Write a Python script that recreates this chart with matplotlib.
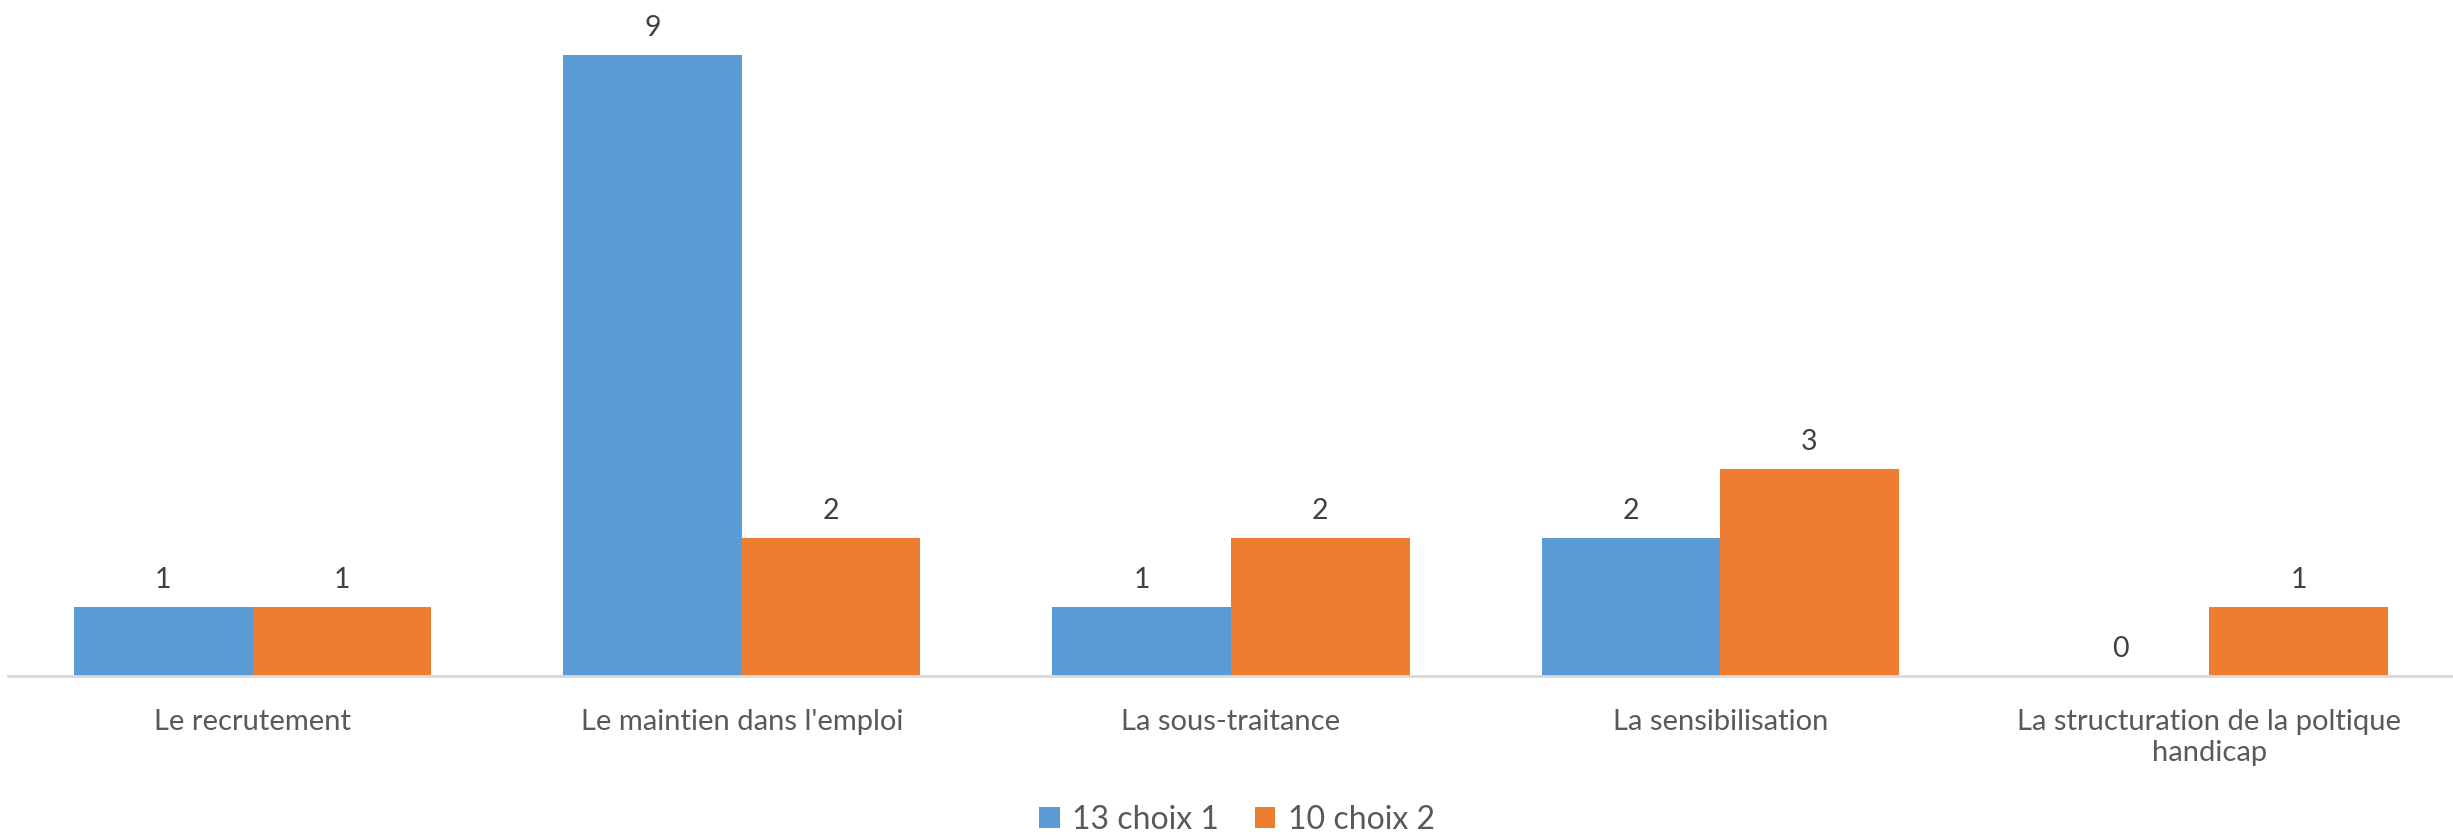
import matplotlib
matplotlib.use("Agg")
import matplotlib.pyplot as plt
import numpy as np

categories = ["Le recrutement", "Le maintien dans l'emploi", "La sous-traitance",
              "La sensibilisation", "La structuration de la poltique\nhandicap"]
series_names = ["13 choix 1", "10 choix 2"]
choix1 = [1, 9, 1, 2, 0]
choix2 = [1, 2, 2, 3, 1]
colors = ["#5B9BD5", "#ED7D31"]

plt.rcParams['font.family'] = ['Lato', 'DejaVu Sans']

W, H = 2453, 839
fig = plt.figure(figsize=(W/100, H/100), dpi=100)
base_px = 676
ax = fig.add_axes([8/W, (H-base_px)/H, 2446/W, base_px/H])

x = np.arange(len(categories))
bw = 0.365
b1 = ax.bar(x - bw/2, choix1, bw, color=colors[0], label=series_names[0])
b2 = ax.bar(x + bw/2, choix2, bw, color=colors[1], label=series_names[1])

ax.set_xlim(-0.5, len(categories) - 0.5)
ax.set_ylim(0, base_px/69.0)

for bars in (b1, b2):
    for r in bars:
        ax.annotate(f"{int(r.get_height())}", (r.get_x() + r.get_width()/2, r.get_height()),
                    xytext=(0, 10), textcoords="offset points", ha="center", va="bottom",
                    fontsize=20.5, color="#404040")

for s in ["top", "right", "left"]:
    ax.spines[s].set_visible(False)
ax.spines["bottom"].set_color("#D9D9D9")
ax.spines["bottom"].set_linewidth(2)
ax.set_yticks([])
ax.set_xticks(x)
ax.set_xticklabels(categories, fontsize=21, color="#595959", linespacing=1.2, va="top")
ax.tick_params(axis="x", length=0, pad=24)

leg = fig.legend(handles=[b1, b2], labels=series_names, loc="center",
                 bbox_to_anchor=(1237/W, 1 - 820/H), ncol=2, frameon=False,
                 fontsize=23, handlelength=0.65, handleheight=0.65, handletextpad=0.4,
                 columnspacing=1.1, labelcolor="#595959")

fig.savefig("out.png", dpi=100)
